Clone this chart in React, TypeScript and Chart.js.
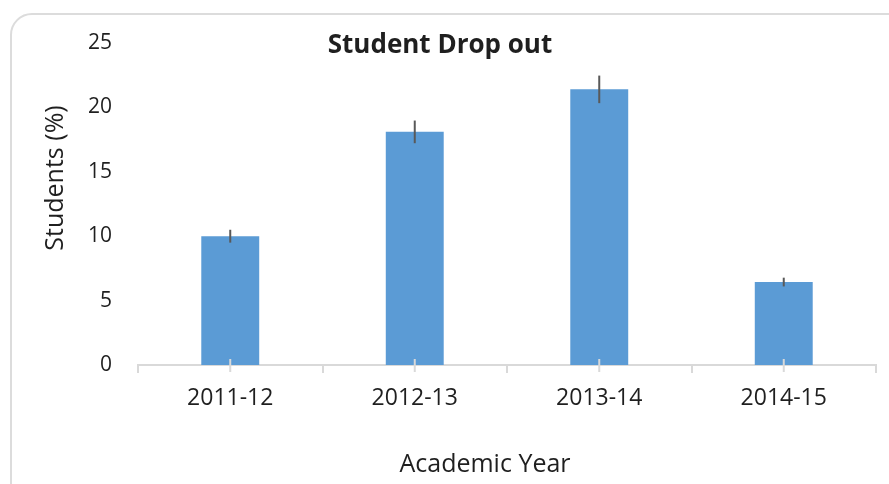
import React, { useEffect, useRef } from "react";
import { Chart, registerables } from "chart.js";

Chart.register(...registerables);

const categories = ["2011-12", "2012-13", "2013-14", "2014-15"];
const dropout = [10.0, 18.1, 21.4, 6.44];
const errors = [0.5, 0.88, 1.07, 0.34];
const yTicks = [0, 5, 10, 15, 20, 25];
const chartTitle = "Student Drop out";
const xTitle = "Academic Year";
const yTitle = "Students (%)";

const FONT = "'Open Sans', 'Liberation Sans', sans-serif";
const TEXT = "#1f1f1f";

const errorBarPlugin = {
  id: "errorBars",
  afterDatasetsDraw(chart: any) {
    const ctx = chart.ctx;
    const meta = chart.getDatasetMeta(0);
    const y = chart.scales.y;
    const x = chart.scales.x;
    ctx.save();
    // light tick marks at category centres crossing the axis
    ctx.strokeStyle = "#d9d9d9";
    ctx.lineWidth = 2;
    categories.forEach((_, i) => {
      const px = x.getPixelForValue(i);
      ctx.beginPath();
      ctx.moveTo(px, y.getPixelForValue(0) - 6);
      ctx.lineTo(px, y.getPixelForValue(0) + 7);
      ctx.stroke();
    });
    ctx.strokeStyle = "#595959";
    ctx.lineWidth = 2;
    meta.data.forEach((bar: any, i: number) => {
      const v = dropout[i];
      const e = errors[i];
      ctx.beginPath();
      ctx.moveTo(bar.x, y.getPixelForValue(v + e));
      ctx.lineTo(bar.x, y.getPixelForValue(v - e));
      ctx.stroke();
    });
    ctx.restore();
  },
};

const titlesPlugin = {
  id: "titles",
  afterDraw(chart: any) {
    const ctx = chart.ctx;
    ctx.save();
    ctx.fillStyle = TEXT;
    ctx.textAlign = "center";
    ctx.textBaseline = "alphabetic";
    // chart title
    ctx.font = `bold 26px ${FONT}`;
    ctx.fillText(chartTitle, 440, 53);
    // x axis title
    ctx.font = `25px ${FONT}`;
    ctx.fillText(xTitle, 485, 472);
    // y axis title
    ctx.translate(63, 178);
    ctx.rotate(-Math.PI / 2);
    ctx.font = `25px ${FONT}`;
    ctx.fillText(yTitle, 0, 0);
    ctx.restore();
  },
};

export default function App() {
  const ref = useRef<HTMLCanvasElement | null>(null);

  useEffect(() => {
    if (!ref.current) return;
    const chart = new Chart(ref.current, {
      type: "bar",
      data: {
        labels: categories,
        datasets: [
          {
            data: dropout,
            backgroundColor: "#5b9bd5",
            borderWidth: 0,
            categoryPercentage: 1,
            barPercentage: 0.314,
          },
        ],
      },
      options: {
        animation: false,
        responsive: false,
        maintainAspectRatio: false,
        layout: { padding: { top: 43, right: 13, bottom: 0, left: 0 } },
        plugins: {
          legend: { display: false },
          tooltip: { enabled: false },
          title: { display: false },
        },
        scales: {
          x: {
            afterFit: (s: any) => {
              s.height = 119;
            },
            grid: {
              offset: true,
              drawOnChartArea: false,
              drawTicks: true,
              tickLength: 8,
              color: "#d9d9d9",
              lineWidth: 2,
            },
            border: { display: true, color: "#d9d9d9", width: 2 },
            ticks: {
              padding: 12,
              color: TEXT,
              font: { family: FONT, size: 23 },
            },
          },
          y: {
            min: 0,
            max: 25,
            afterFit: (s: any) => {
              s.width = 138;
            },
            afterBuildTicks: (s: any) => {
              s.ticks = yTicks.map((v) => ({ value: v }));
            },
            grid: { display: false, drawTicks: false },
            border: { display: false },
            ticks: {
              padding: 26,
              color: TEXT,
              font: { family: FONT, size: 21 },
            },
          },
        },
      },
      plugins: [errorBarPlugin, titlesPlugin],
    });
    return () => chart.destroy();
  }, []);

  return (
    <div
      style={{
        position: "fixed",
        left: 0,
        top: 0,
        width: 889,
        height: 484,
        overflow: "hidden",
        background: "#ffffff",
      }}
    >
      <div
        style={{
          position: "absolute",
          left: 10,
          top: 13,
          width: 900,
          height: 500,
          border: "2px solid #dcdcdc",
          borderRadius: 22,
          boxSizing: "border-box",
        }}
      />
      <canvas
        ref={ref}
        width={889}
        height={484}
        style={{ position: "absolute", left: 0, top: 0, width: 889, height: 484 }}
      />
    </div>
  );
}
